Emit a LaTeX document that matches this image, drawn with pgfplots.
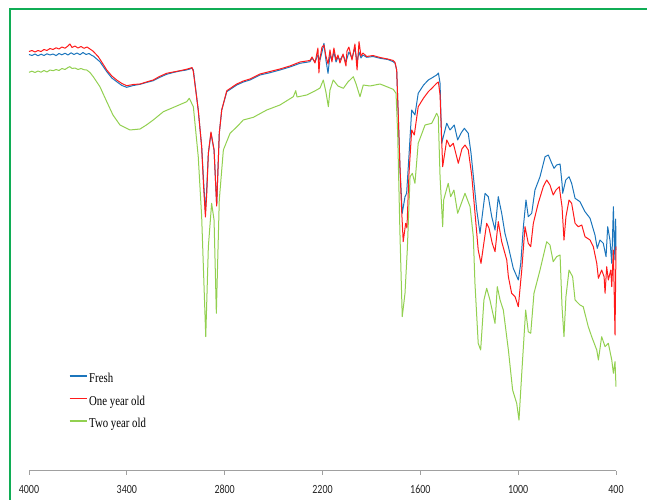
\documentclass[border=0pt]{standalone}
\usepackage{pgfplots}
\pgfplotsset{compat=1.18}
\usepackage{fontspec}
\setmainfont{Liberation Serif}
\newfontfamily\tickfont[FakeStretch=0.8]{Carlito}
\newfontfamily\legfont[FakeStretch=0.8]{Liberation Serif}
\definecolor{fresh}{HTML}{1B75BC}
\definecolor{oneyr}{HTML}{FF1A1A}
\definecolor{twoyr}{HTML}{92D050}
\definecolor{framegreen}{HTML}{10AD55}
\definecolor{axgray}{HTML}{A0A0A0}
\begin{document}
\begin{tikzpicture}
\useasboundingbox (0,0) rectangle (647pt,499pt);
\clip (0,0) rectangle (647pt,499pt);
\draw[framegreen, line width=2pt] (10pt,-5pt) -- (10pt,489.5pt) -- (660pt,489.5pt);
\begin{axis}[
  at={(29pt,28.3pt)}, anchor=south west,
  scale only axis, width=587pt, height=460.7pt,
  x dir=reverse, xmin=400, xmax=4000, ymin=28.3, ymax=489,
  axis x line=bottom, axis y line=none,
  x axis line style={-, draw=axgray, line width=0.9pt},
  xtick={400,1000,1600,2200,2800,3400,4000},
  xticklabels={400,1000,1600,2200,2800,3400,4000},
  tick align=outside, major tick length=4pt,
  every tick/.style={draw=axgray, line width=0.8pt},
  xticklabel style={font=\tickfont\fontsize{12.5}{12.5}\selectfont, text=black!85, inner sep=0pt, anchor=north, yshift=-10pt},
  clip=false,
  legend cell align=left,
  legend image code/.code={\draw[#1, line width=1.2pt] (0pt,3.3pt) -- (17.5pt,3.3pt);},
  legend style={draw=none, fill=none, at={(axis description cs:0.0678,0.2136)}, anchor=north west,
    inner sep=0pt, row sep=9pt, column sep=1pt,
    font=\legfont\fontsize{13.5}{14}\selectfont,
    nodes={inner sep=0.5pt, text height=9.5pt, text depth=3pt}},
  every axis plot/.append style={line width=1pt, line join=round},
]
% Fresh
\addplot[fresh] coordinates {
(4000,444.5)(3982,443.5)(3963,445)(3945,443.2)(3926,444.8)(3908,443.5)(3890,445.2)(3871,444)(3853,445)(3834,443.4)(3816,445.5)(3798,444.2)(3779,445.8)(3761,444)(3742,446.2)(3724,444.5)(3706,446)(3687,444.3)(3669,446.5)(3650,444.5)(3632,445.5)(3614,443.5)
(3606,443)(3565,437.3)(3523,427.3)(3492,421)(3462,417.3)(3430,413.5)(3401,411.7)(3360,413.5)(3319,414.7)(3280,416.5)(3238,418.3)(3200,421.5)(3156,424.7)(3115,426.5)(3074,428)(3040,428.8)(3013,430)(3000,431)(2992,429)
(2962,389)(2941,352.3)(2930,320)(2918,287)(2910,310)(2900,345.7)(2884,365.7)(2865,349)(2849,294)(2833,365.7)(2818,389)(2787,407.3)(2726,414)(2685,417)(2645,419)(2583,424)(2522,426.3)(2461,429)(2400,432)(2338,435.7)(2277,437.3)
(2264,441)(2246,437)(2228,444)(2215,439)(2203,447)(2191,455.7)(2179,439)(2166,425.7)(2154,444)(2142,439)(2130,447)(2117,437)(2105,442)(2093,439)(2074,444)(2056,437)(2038,447)(2019,441)(2001,451)(1988,437)(1976,447)(1964,441)(1952,444)
(1929,441.7)(1890,442.5)(1847,440.7)(1800,439.5)(1766,437.3)(1755,435.7)
(1745,429)(1735,382.3)(1725,332.3)(1711,285.7)(1694,302.3)(1684,305.7)(1670,342.3)(1653,389)(1633,384)(1613,405.7)(1580,414)(1551,419)(1525,421.5)(1500,424)(1489,426)(1479,415.7)(1469,355.7)
(1438,375.7)(1418,369)(1392,374)(1371,359)(1350,366)(1330,370.7)(1306,365.7)(1289,345.7)(1254,289)(1234,265.7)(1203,305.7)(1183,302.3)(1162,282.3)(1142,269)(1122,302.3)(1101,285.7)(1081,265.7)(1060,252.3)(1030,230.7)(999,219)
(984,235.7)(968,272.3)(952,299)(938,282.3)(917,285.7)(897,309)(866,322.3)(835,342.3)(815,344)(794,335.7)(780,330.7)(764,334)(743,335)(731,315.7)(727,305.7)(708,319)(688,322.3)(672,315.7)(651,300.7)(621,297.3)(590,287.3)(559,280.7)
(529,264)(515,250.7)(498,259)(478,255.7)(461,242.3)(451,272.3)(437,259)(426,235.7)(416,292.3)(410,252.3)(406,239)(402,280)(400,249)
};
\addlegendentry{Fresh}
% One year old
\addplot[oneyr] coordinates {
(4000,447.5)(3982,448.5)(3963,447)(3945,448.5)(3926,447.5)(3908,449.5)(3890,448.5)(3871,450.5)(3853,449.5)(3834,451.2)(3816,450)(3798,452)(3779,450.8)(3761,453)(3749,455)(3736,451.5)(3718,453)(3700,451)(3681,452.5)(3663,450.7)(3644,452)(3626,450)(3608,448)
(3575,442.3)(3550,436)(3523,429)(3492,423)(3462,419)(3430,415.5)(3401,413.3)(3360,414.5)(3319,415)(3280,417)(3238,419)(3200,422.5)(3156,425.7)(3115,427)(3074,428.3)(3040,429.5)(3013,430.7)(3000,431.5)(2992,427.3)
(2962,389)(2941,352.3)(2930,315)(2918,282)(2910,305)(2900,345.7)(2884,367)(2865,349)(2849,293)(2833,365.7)(2818,389)(2787,408.3)(2726,415)(2685,418)(2645,420)(2583,425)(2522,427.5)(2461,430)(2400,433)(2338,437)(2277,438.5)
(2264,442)(2246,436)(2228,451)(2222,426)(2215,441)(2203,452)(2191,454)(2179,443)(2166,435)(2154,449)(2142,437)(2130,451)(2117,439)(2105,444)(2093,436)(2074,445)(2056,433)(2050,448)(2038,452)(2019,439)(2001,455)(1988,429)(1976,457.3)(1964,443)(1952,446)
(1929,442.5)(1890,443.5)(1847,441.5)(1800,440)(1766,438.5)(1755,436.5)
(1745,429)(1735,382.3)(1725,332.3)(1715,290)(1705,257.3)(1690,275.7)(1682,271)(1670,324)(1653,369)(1637,364)(1613,392.3)(1580,401)(1551,407.3)(1525,411.5)(1500,415.7)(1489,417)(1479,404)(1463,332.3)
(1438,359)(1418,352.3)(1398,355.7)(1367,335.7)(1345,350)(1326,354)(1306,349)(1285,324)(1245,249)(1228,235.7)(1193,275.7)(1179,271)(1159,255.7)(1142,247.3)(1122,277.3)(1101,257.3)(1070,239)(1060,222.3)(1040,205.7)(1019,202.3)(999,192.3)
(978,229)(958,272.3)(938,255.7)(923,252.3)(907,275.7)(877,295.7)(846,312.3)(825,319)(805,314)(785,304)(768,309)(748,312.3)(731,292.3)(719,259)(707,282.3)(688,299)(672,295.7)(651,275.7)(631,272.3)(610,274)(590,262.3)(559,259)(539,252.3)
(518,235.7)(508,220.7)(488,229)(473,222.3)(467,205.7)(457,232.3)(447,219)(432,229)(426,212.3)(416,249)(406,164)(400,252.3)
};
\addlegendentry{One year old}
% Two year old
\addplot[twoyr] coordinates {
(4000,426.7)(3982,427.8)(3963,426.5)(3945,428)(3926,426.8)(3908,428.5)(3890,427)(3871,429)(3851,428.3)(3834,429.5)(3816,428.5)(3798,430.5)(3779,429.5)(3761,431.5)(3749,432.3)(3736,430.5)(3718,431)(3700,429.5)(3681,430.5)(3663,429.3)(3646,429)(3626,426.5)
(3606,422.3)(3565,412.3)(3523,397.3)(3485,384)(3442,374)(3381,369)(3319,370)(3280,374)(3238,379)(3176,387.3)(3094,393)(3033,397.3)(3017,400.7)(2992,392.3)
(2962,342.3)(2941,282.3)(2916,162.3)(2900,252.3)(2880,295.7)(2865,279)(2851,185.7)(2833,299)(2808,349)(2767,365.7)(2720,373)(2686,379)(2624,381.7)(2542,389)(2461,394)(2379,402.3)(2364,408.3)(2356,402)(2297,404)(2236,409)(2215,411)(2195,419)(2179,407)(2164,392.3)(2154,409)(2134,419)(2105,413)(2072,410.7)(2044,417)(2011,422.3)(1994,415)(1970,402.3)(1950,414)(1909,413)(1847,415)(1766,409.7)(1749,405.7)
(1739,365.7)(1725,265.7)(1711,182.3)(1694,205.7)(1680,249)(1663,322.3)(1649,325.7)(1633,315.7)(1613,355.7)(1571,374)(1530,375.7)(1500,385.7)(1490,382.3)(1479,322.3)(1463,272.3)(1457,299)(1429,315.7)(1414,302.3)(1394,309)(1371,285.7)(1326,305.7)(1295,292.3)(1275,262.3)(1265,215.7)(1245,155.7)(1230,149)(1210,199)(1193,210.7)(1173,199)(1142,175.7)(1128,212.3)(1111,199)(1091,189)(1060,149)(1034,109)(1009,95.7)(995,79)
(978,125.7)(954,189)(938,167.3)(923,165.7)(903,205.7)(866,229)(825,257.3)(805,254)(785,237.3)(764,242.3)(743,244)(731,192.3)(719,162.3)(707,202.3)(688,229)(666,222.3)(651,199)(621,194)(601,192.3)(570,172.3)(549,162.3)(518,149)(508,139)(488,162.3)(467,152.3)(447,155.7)(426,139)(416,125.7)(406,137.3)(400,112.3)
};
\addlegendentry{Two year old}
\end{axis}
\end{tikzpicture}
\end{document}
